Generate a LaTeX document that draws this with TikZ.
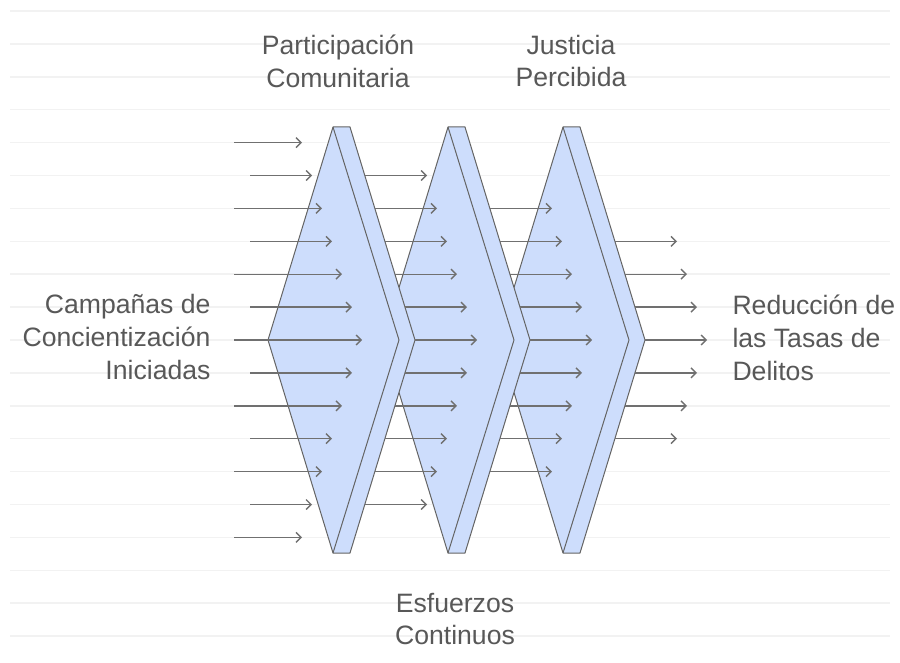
\documentclass[tikz,border=0pt]{standalone}
\usepackage{fontspec}
\setmainfont{Liberation Sans}
\usepackage{xcolor}
\definecolor{color1}{RGB}{205, 221, 252}
\definecolor{color2}{RGB}{100, 100, 100}
\definecolor{color3}{RGB}{112, 112, 112}
\definecolor{color4}{RGB}{88, 88, 88}
\definecolor{color5}{RGB}{242, 242, 242}
\usetikzlibrary{arrows.meta}

\begin{document}
\begin{tikzpicture}[x=1bp, y=-1bp,
	panel/.style={fill=color1, draw=color2, line width=1bp, line join=round},
	flecha/.style={color3, line width=1.4bp, -{Straight Barb[length=5bp, width=10bp]}},
	etiqueta/.style={color4, font={\fontsize{26.7}{33.1}\selectfont}}]
	\useasboundingbox (0,0) rectangle (900,663);
	\foreach \k in {0,...,19}
		\draw[color5, line width=1.5bp] (10, 11+32.9*\k) -- (890, 11+32.9*\k);
	\foreach \x in {563,448,333}{
		\draw[panel] (\x,127) -- (\x+17,127) -- (\x+82,340) -- (\x+17,553) -- (\x,553) -- (\x-65,340) -- cycle;
		\draw[panel, fill=none] (\x,127) -- (\x+66,340) -- (\x,553);
	}
	\foreach \g in {0,...,3}{
		\pgfmathtruncatemacro\m{6-\g}
		\foreach \k in {-\m,...,\m}{
			\pgfmathsetmacro\xs{\g==0 ? 234+16*mod(abs(\k),2) : 235+115*\g+65*(1-abs(\k)*32.9/213)}
			\pgfmathsetmacro\xe{362+115*\g-10*abs(\k)}
			\pgfmathsetmacro\yf{340+32.9*\k}
			\draw[flecha] (\xs,\yf) -- (\xe,\yf);
		}
	}
	\node[etiqueta, align=right, anchor=east] (campanas) at (214,337) {Campañas de\\Concientización\\Iniciadas};
	\node[etiqueta, align=center] (participacion) at (338,61) {Participación\\Comunitaria};
	\node[etiqueta, align=center] (justicia) at (571,61) {Justicia\\Percibida};
	\node[etiqueta, align=center] (esfuerzos) at (455,619) {Esfuerzos\\Continuos};
	\node[etiqueta, align=left, anchor=west] (reduccion) at (729,338) {Reducción de\\las Tasas de\\Delitos};
\end{tikzpicture}
\end{document}
